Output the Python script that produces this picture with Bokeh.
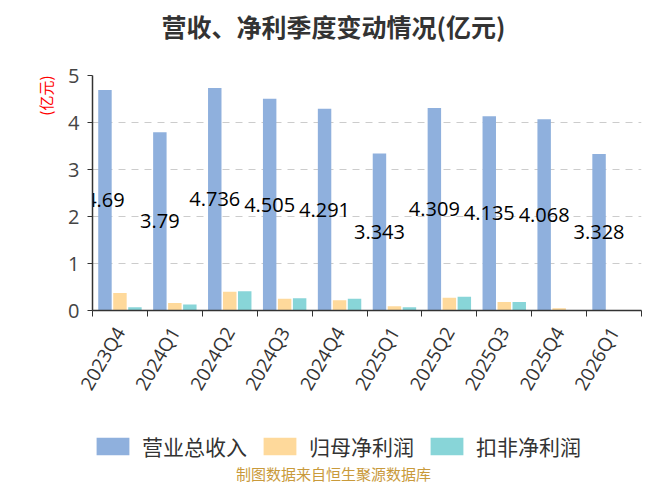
from math import pi

import numpy as np
from bokeh.core.properties import value
from bokeh.embed import file_html
from bokeh.layouts import column
from bokeh.models import (ColumnDataSource, FixedTicker, Label, Legend, LegendItem,
                          Range1d, Title)
from bokeh.plotting import figure
from bokeh.resources import INLINE
from bokeh.transform import dodge

# data (亿元)
quarters = ["2023Q4", "2024Q1", "2024Q2", "2024Q3", "2024Q4",
            "2025Q1", "2025Q2", "2025Q3", "2025Q4", "2026Q1"]
revenue = [4.69, 3.79, 4.736, 4.505, 4.291, 3.343, 4.309, 4.135, 4.068, 3.328]
net_profit = [0.375, 0.16, 0.40, 0.25, 0.22, 0.09, 0.27, 0.18, 0.05, 0.0]
deducted_profit = [0.07, 0.13, 0.41, 0.26, 0.25, 0.07, 0.29, 0.18, 0.01, 0.0]
series_names = ["营业总收入", "归母净利润", "扣非净利润"]
y_ticks = [0, 1, 2, 3, 4, 5]

colors = ["#8fb0dd", "#fed99b", "#88d5d8"]
CJK = "Noto Sans CJK SC"
NUM = "Open Sans"
W = 651
LEFT, RIGHT = 92, 10


def blank_strip(height):
    """A figure with no axes, used for text rows above and below the chart."""
    f = figure(width=W, height=height, x_range=Range1d(0, 1), y_range=Range1d(0, 1),
               x_axis_type=None, y_axis_type=None, title=None,
               output_backend="svg", toolbar_location=None, tools="",
               min_border_left=LEFT, min_border_right=RIGHT,
               min_border_top=0, min_border_bottom=0)
    f.outline_line_color = None
    return f


idx = np.arange(len(quarters))
source = ColumnDataSource(dict(
    x=idx,
    revenue=revenue,
    net_profit=net_profit,
    deducted_profit=deducted_profit,
    label=[f"{v:g}" for v in revenue],
    label_y=np.array(revenue) / 2,
))

# title row
head = blank_strip(62)
head.add_layout(Label(x=241, y=37, x_units="screen", y_units="screen",
                      text="营收、净利季度变动情况(亿元)", text_font=CJK,
                      text_font_size="25px", text_font_style="bold", text_color="#333333",
                      text_align="center", text_baseline="middle"))

# main chart
p = figure(
    width=W,
    height=342,
    x_range=Range1d(-0.5, len(quarters) - 0.5),
    y_range=Range1d(0, 5),
    title=None,
    output_backend="svg",
    toolbar_location=None,
    tools="",
    min_border_left=LEFT,
    min_border_right=RIGHT,
    min_border_top=13,
    min_border_bottom=93,
)
p.outline_line_color = None
p.xgrid.visible = False
p.ygrid.grid_line_color = "#cccccc"
p.ygrid.grid_line_dash = "7 6"
p.ygrid.grid_line_width = 1.2
p.ygrid.ticker = FixedTicker(ticks=y_ticks)

offset = 0.273
bar_w = 0.245
r_rev = p.vbar(x=dodge("x", -offset, range=p.x_range), top="revenue", width=bar_w,
               source=source, color=colors[0], line_color=None)
r_np = p.vbar(x=dodge("x", 0, range=p.x_range), top="net_profit", width=bar_w,
              source=source, color=colors[1], line_color=None)
r_dp = p.vbar(x=dodge("x", offset, range=p.x_range), top="deducted_profit", width=bar_w,
              source=source, color=colors[2], line_color=None)

# value labels in the middle of the revenue bars
p.text(x=dodge("x", -offset, range=p.x_range), y="label_y", text="label", source=source,
       text_font=value(NUM), text_font_size="20px", text_color="black",
       text_align="center", text_baseline="middle")

p.xaxis.ticker = FixedTicker(ticks=list(idx), minor_ticks=list(np.arange(-0.5, len(quarters), 1.0)))
p.xaxis.major_label_overrides = {int(i): q for i, q in zip(idx, quarters)}
p.xaxis.major_label_orientation = pi / 3
p.xaxis.major_tick_out = 0
p.xaxis.major_tick_in = 0
p.xaxis.minor_tick_out = 6
p.xaxis.minor_tick_in = 0
p.xaxis.minor_tick_line_color = "#333333"
p.xaxis.axis_line_color = "#333333"
p.xaxis.axis_line_width = 1.5
p.xaxis.major_label_text_font = NUM
p.xaxis.major_label_text_font_size = "19px"
p.xaxis.major_label_text_color = "#333333"
p.xaxis.major_label_standoff = 12

p.yaxis.ticker = FixedTicker(ticks=y_ticks)
p.yaxis.major_tick_out = 5
p.yaxis.major_tick_in = 0
p.yaxis.minor_tick_line_color = None
p.yaxis.major_tick_line_color = "#333333"
p.yaxis.axis_line_color = "#333333"
p.yaxis.axis_line_width = 1.5
p.yaxis.major_label_text_font = NUM
p.yaxis.major_label_text_font_size = "20px"
p.yaxis.major_label_text_color = "#444444"
p.yaxis.major_label_standoff = 8

p.add_layout(Title(text="(亿元)", align="right", text_font=CJK, text_font_size="15px",
                   text_font_style="normal", text_color="red", standoff=20), "left")

# legend and source note underneath
foot = blank_strip(80)
swatches = [foot.vbar(x=[np.nan], top=[np.nan], width=1, color=c, line_color=None)
            for c in colors]
legend = Legend(
    items=[LegendItem(label=n, renderers=[r]) for n, r in zip(series_names, swatches)],
    orientation="horizontal",
    location=(0, 23),
    glyph_width=41,
    glyph_height=22,
    label_height=22,
    label_standoff=9,
    spacing=12,
    padding=0,
    margin=0,
    label_text_font=CJK,
    label_text_font_size="21px",
    label_text_color="#333333",
    border_line_color=None,
    background_fill_alpha=0,
)
foot.add_layout(legend)
foot.add_layout(Label(x=241, y=11, x_units="screen", y_units="screen",
                      text="制图数据来自恒生聚源数据库", text_font=CJK,
                      text_font_size="15px", text_color="#c99a3b",
                      text_align="center", text_baseline="middle"))

open("out.html", "w").write(file_html(column(head, p, foot, spacing=0), INLINE))
